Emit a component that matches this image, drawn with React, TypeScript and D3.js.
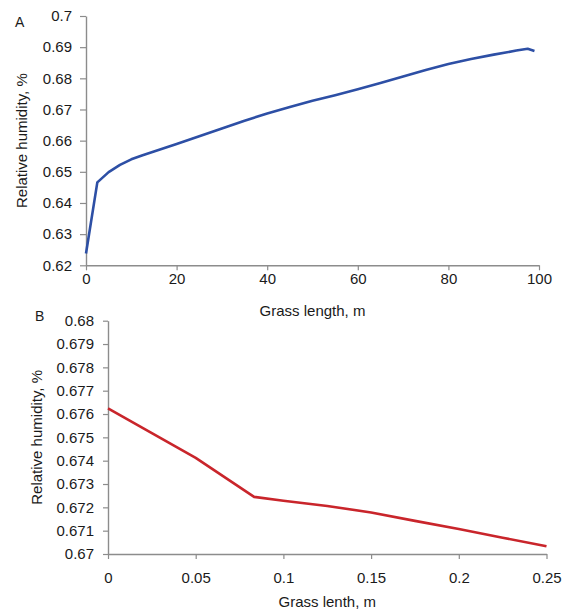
import { useEffect, useRef } from 'react';
import * as d3 from 'd3';

// Panel A: humidity along the grass strip
const lengthA = [0, 2.5, 5, 7.5, 10, 12.5, 15, 17.5, 20, 25, 30, 35, 40, 45, 50, 55, 60, 65, 70, 75, 80, 85, 90, 95, 97.5, 99];
const humidityA = [0.6238, 0.6466, 0.6499, 0.6522, 0.654, 0.6553, 0.6565, 0.6577, 0.6589, 0.6614, 0.6639, 0.6664, 0.6687, 0.6708, 0.6728, 0.6746, 0.6765, 0.6785, 0.6806, 0.6827, 0.6846, 0.6862, 0.6876, 0.6889, 0.6895, 0.6888];
const xTicksA = [0, 20, 40, 60, 80, 100];
const yTicksA = [0.62, 0.63, 0.64, 0.65, 0.66, 0.67, 0.68, 0.69, 0.7];

// Panel B: humidity inside the grass layer
const lengthB = [0, 0.025, 0.05, 0.0833, 0.1, 0.125, 0.15, 0.175, 0.2, 0.225, 0.25];
const humidityB = [0.67624, 0.67518, 0.67412, 0.67245, 0.67228, 0.67206, 0.67178, 0.67142, 0.67107, 0.6707, 0.67033];
const xTicksB = [0, 0.05, 0.1, 0.15, 0.2, 0.25];
const yTicksB = [0.67, 0.671, 0.672, 0.673, 0.674, 0.675, 0.676, 0.677, 0.678, 0.679, 0.68];

const FONT = '"Liberation Sans", Arial, sans-serif';
const AXIS_COLOR = '#8c8c8c';

export default function App() {
  const svgRef = useRef<SVGSVGElement | null>(null);

  useEffect(() => {
    if (!svgRef.current) return;
    const svg = d3.select(svgRef.current);
    svg.selectAll('*').remove();

    const drawPanel = (opts: any) => {
      const { xs, ys, xTicks, yTicks, xDomain, yDomain, left, right, top, bottom,
        color, letter, letterPos, xTitle, xTitleY, yTitleX, tickLen, labelGap, xLabelY } = opts;

      const x = d3.scaleLinear().domain(xDomain).range([left, right]);
      const y = d3.scaleLinear().domain(yDomain).range([bottom, top]);
      const g = svg.append('g');

      // y axis
      const yAxis = g.append('g')
        .attr('transform', `translate(${left},0)`)
        .call(d3.axisLeft(y).tickValues(yTicks).tickSize(tickLen).tickSizeOuter(0)
          .tickFormat((d: any) => String(+d.toFixed(4))));
      yAxis.select('.domain').attr('stroke', AXIS_COLOR).attr('stroke-width', 1.4);
      yAxis.selectAll('.tick line').attr('stroke', AXIS_COLOR).attr('stroke-width', 1.2);
      yAxis.selectAll('.tick text')
        .attr('x', -(tickLen + labelGap))
        .attr('fill', '#1a1a1a')
        .style('font-family', FONT)
        .style('font-size', '15px');

      // x axis
      const xAxis = g.append('g')
        .attr('transform', `translate(0,${bottom})`)
        .call(d3.axisBottom(x).tickValues(xTicks).tickSize(5).tickSizeOuter(0)
          .tickFormat((d: any) => String(+d.toFixed(4))));
      xAxis.select('.domain').attr('stroke', AXIS_COLOR).attr('stroke-width', 1.4);
      xAxis.selectAll('.tick line').attr('stroke', AXIS_COLOR).attr('stroke-width', 1.2);
      xAxis.selectAll('.tick text')
        .attr('y', xLabelY - bottom)
        .attr('dy', 0)
        .attr('fill', '#1a1a1a')
        .style('font-family', FONT)
        .style('font-size', '15px');

      // line
      const pts = xs.map((v: number, i: number) => [v, ys[i]]);
      g.append('path')
        .datum(pts)
        .attr('fill', 'none')
        .attr('stroke', color)
        .attr('stroke-width', 2.6)
        .attr('stroke-linejoin', 'round')
        .attr('d', d3.line().x((d: any) => x(d[0])).y((d: any) => y(d[1])));

      // titles
      g.append('text')
        .attr('x', (left + right) / 2)
        .attr('y', xTitleY)
        .attr('text-anchor', 'middle')
        .style('font-family', FONT)
        .style('font-size', '15px')
        .attr('fill', '#1a1a1a')
        .text(xTitle);

      g.append('text')
        .attr('transform', `translate(${yTitleX},${(top + bottom) / 2}) rotate(-90)`)
        .attr('text-anchor', 'middle')
        .style('font-family', FONT)
        .style('font-size', '15px')
        .attr('fill', '#1a1a1a')
        .text('Relative humidity, %');

      g.append('text')
        .attr('x', letterPos[0])
        .attr('y', letterPos[1])
        .style('font-family', FONT)
        .style('font-size', '14px')
        .attr('fill', '#1a1a1a')
        .text(letter);
    };

    drawPanel({
      xs: lengthA, ys: humidityA, xTicks: xTicksA, yTicks: yTicksA,
      xDomain: [0, 100], yDomain: [0.62, 0.7],
      left: 86, right: 539, top: 16, bottom: 265.3,
      color: '#2d4fa5', letter: 'A', letterPos: [15, 26.5],
      xTitle: 'Grass length, m', xTitleY: 316, yTitleX: 27,
      tickLen: 6, labelGap: 8, xLabelY: 284,
    });

    drawPanel({
      xs: lengthB, ys: humidityB, xTicks: xTicksB, yTicks: yTicksB,
      xDomain: [0, 0.25], yDomain: [0.67, 0.68],
      left: 108, right: 546.5, top: 320.7, bottom: 554,
      color: '#c9252b', letter: 'B', letterPos: [35, 321],
      xTitle: 'Grass lenth, m', xTitleY: 607, yTitleX: 42,
      tickLen: 5, labelGap: 9, xLabelY: 583,
    });
  }, []);

  return (
    <svg
      ref={svgRef}
      width={563}
      height={615}
      style={{ position: 'absolute', left: 0, top: 0, background: '#fff' }}
    />
  );
}
